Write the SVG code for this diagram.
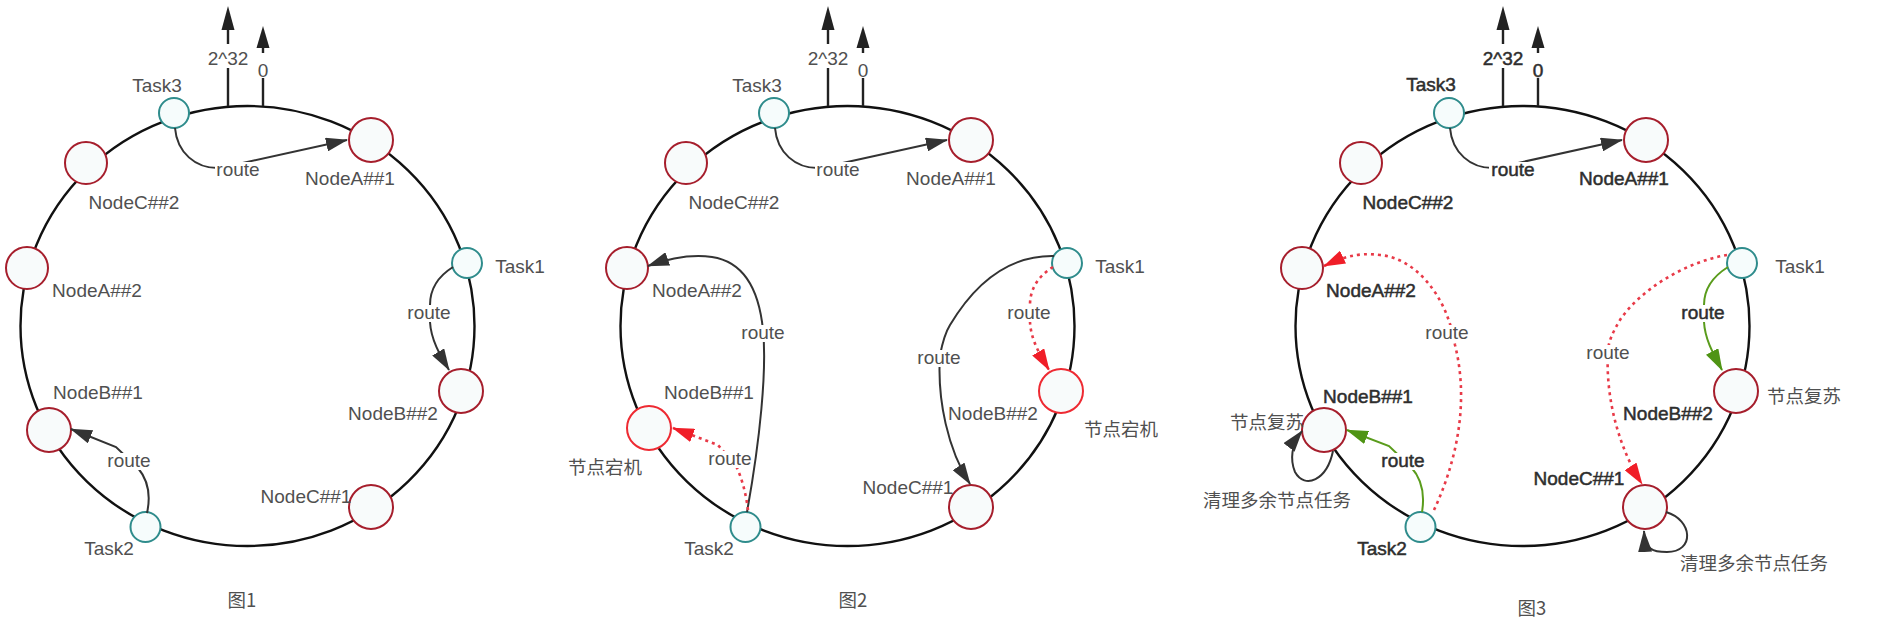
<svg xmlns="http://www.w3.org/2000/svg" width="1880" height="638" viewBox="0 0 1880 638">
<defs>
<style>
.ring{fill:none;stroke:#111;stroke-width:2.4}
.ax{fill:none;stroke:#222;stroke-width:2.4}
.axh{fill:#222}
.task{fill:#f6fcfc;stroke:#2f8c8c;stroke-width:2}
.node{fill:#f8fbfb;stroke:#a61e2c;stroke-width:2}
.down{stroke:#ee2a32}
.t{font-family:"Liberation Sans",Arial,sans-serif;font-size:19px;fill:#505050;text-anchor:middle}
.b{fill:#2e2e2e;stroke:#2e2e2e;stroke-width:0.5}
.cjk{font-family:"Noto Sans CJK SC","Liberation Sans",sans-serif;font-size:18.5px}
.c{fill:none;stroke:#333;stroke-width:2}
.rd{fill:none;stroke:#e83a48;stroke-width:2.6;stroke-dasharray:3 4}
.gr{fill:none;stroke:#5a9c1c;stroke-width:2}
.bg{fill:#fff}
</style>
<marker id="ab" markerUnits="userSpaceOnUse" markerWidth="22" markerHeight="14" refX="21" refY="7" orient="auto"><path d="M0,0 L22,7 L0,14 z" fill="#333"/></marker>
<marker id="ar" markerUnits="userSpaceOnUse" markerWidth="22" markerHeight="14" refX="21" refY="7" orient="auto"><path d="M0,0 L22,7 L0,14 z" fill="#f01e28"/></marker>
<marker id="ag" markerUnits="userSpaceOnUse" markerWidth="22" markerHeight="14" refX="21" refY="7" orient="auto"><path d="M0,0 L22,7 L0,14 z" fill="#4f9414"/></marker>
</defs>
<rect width="1880" height="638" fill="#fff"/>

<!-- ===== Figure 1 ===== -->
<g id="fig1">
 <g id="f1-ring">
  <ellipse class="ring" cx="247.5" cy="326" rx="227" ry="220"/>
 </g>
 <g id="f1-nodes">
  <g id="f1-task3"><circle class="task" cx="174" cy="113" r="15"/><text class="t" x="157" y="92">Task3</text></g>
  <g id="f1-nodeA1"><circle class="node" cx="371" cy="140" r="22"/><text class="t" x="350" y="185">NodeA##1</text></g>
  <g id="f1-nodeC2"><circle class="node" cx="86" cy="163" r="21"/><text class="t" x="134" y="209">NodeC##2</text></g>
  <g id="f1-nodeA2"><circle class="node" cx="27" cy="268" r="21"/><text class="t" x="97" y="297">NodeA##2</text></g>
  <g id="f1-task1"><circle class="task" cx="467" cy="263" r="15"/><text class="t" x="520" y="273">Task1</text></g>
  <g id="f1-nodeB2"><circle class="node" cx="461" cy="391" r="22"/><text class="t" x="393" y="420">NodeB##2</text></g>
  <g id="f1-nodeB1"><circle class="node" cx="49" cy="430" r="22"/><text class="t" x="98" y="399">NodeB##1</text></g>
  <g id="f1-task2"><circle class="task" cx="145.5" cy="527" r="15"/><text class="t" x="109" y="555">Task2</text></g>
  <g id="f1-nodeC1"><circle class="node" cx="371" cy="507" r="22"/><text class="t" x="306" y="503">NodeC##1</text></g>
 </g>
 <g id="f1-connectors">
  <path class="ax" d="M228,106 V68 M228,44 V28"/><path class="axh" d="M228,6 L234.5,30 L221.5,30 z"/>
  <path class="ax" d="M263,106 V78 M263,53 V46"/><path class="axh" d="M263,26 L269.5,48 L256.5,48 z"/>
  <text class="t" x="228" y="65">2^32</text><text class="t" x="263" y="77">0</text>
  <path class="c" d="M175,128 C177,152 195,169 220,168 L347,140" marker-end="url(#ab)"/>
  <rect class="bg" x="215" y="162" width="46" height="17"/><text class="t" x="238" y="176">route</text>
  <path class="c" d="M453,267 C437,277 430,290 430,305 L430,322 C431,340 440,355 449,370" marker-end="url(#ab)"/>
  <rect class="bg" x="406" y="305" width="46" height="17"/><text class="t" x="429" y="319">route</text>
  <path class="c" d="M147,513 C151,495 148,480 138,468 L116,447 L71,429" marker-end="url(#ab)"/>
  <rect class="bg" x="106" y="453" width="46" height="17"/><text class="t" x="129" y="467">route</text>
 </g>
 <text class="t cjk" x="242" y="607">图1</text>
</g>

<!-- ===== Figure 2 ===== -->
<g id="fig2" transform="translate(600,0)">
 <g id="f2-ring">
  <ellipse class="ring" cx="247.5" cy="326" rx="227" ry="220"/>
 </g>
 <g id="f2-nodes">
  <g id="f2-task3"><circle class="task" cx="174" cy="113" r="15"/><text class="t" x="157" y="92">Task3</text></g>
  <g id="f2-nodeA1"><circle class="node" cx="371" cy="140" r="22"/><text class="t" x="351" y="185">NodeA##1</text></g>
  <g id="f2-nodeC2"><circle class="node" cx="86" cy="163" r="21"/><text class="t" x="134" y="209">NodeC##2</text></g>
  <g id="f2-nodeA2"><circle class="node" cx="27" cy="268" r="21"/><text class="t" x="97" y="297">NodeA##2</text></g>
  <g id="f2-task1"><circle class="task" cx="467" cy="263" r="15"/><text class="t" x="520" y="273">Task1</text></g>
  <g id="f2-nodeB2"><circle class="node down" cx="461" cy="391" r="22"/><text class="t" x="393" y="420">NodeB##2</text><text class="t cjk" x="521" y="436">节点宕机</text></g>
  <g id="f2-nodeB1"><circle class="node down" cx="49" cy="428" r="22"/><text class="t" x="109" y="399">NodeB##1</text><text class="t cjk" x="5" y="474">节点宕机</text></g>
  <g id="f2-task2"><circle class="task" cx="145.5" cy="527" r="15"/><text class="t" x="109" y="555">Task2</text></g>
  <g id="f2-nodeC1"><circle class="node" cx="371" cy="507" r="22"/><text class="t" x="308" y="494">NodeC##1</text></g>
 </g>
 <g id="f2-connectors">
  <path class="ax" d="M228,106 V68 M228,44 V28"/><path class="axh" d="M228,6 L234.5,30 L221.5,30 z"/>
  <path class="ax" d="M263,106 V78 M263,53 V46"/><path class="axh" d="M263,26 L269.5,48 L256.5,48 z"/>
  <text class="t" x="228" y="65">2^32</text><text class="t" x="263" y="77">0</text>
  <path class="c" d="M175,128 C177,152 195,169 220,168 L347,140" marker-end="url(#ab)"/>
  <rect class="bg" x="215" y="162" width="46" height="17"/><text class="t" x="238" y="176">route</text>
  <path class="c" d="M147,512 C160,440 167,370 163,330 C159,290 145,262 112,257 C90,254 70,258 48,266" marker-end="url(#ab)"/>
  <rect class="bg" x="140" y="325" width="46" height="17"/><text class="t" x="163" y="339">route</text>
  <path class="rd" d="M148,510 C146,494 142,478 136,466 L118,445 L73,428" marker-end="url(#ar)"/>
  <rect class="bg" x="107" y="451" width="46" height="17"/><text class="t" x="130" y="465">route</text>
  <path class="c" d="M454,256 C400,255 368,295 350,325 C345,333 342,345 340,355 C337,400 348,450 370,484" marker-end="url(#ab)"/>
  <rect class="bg" x="316" y="350" width="46" height="17"/><text class="t" x="339" y="364">route</text>
  <path class="rd" d="M453,267 C437,277 430,290 430,305 L430,322 C431,340 440,355 449,370" marker-end="url(#ar)"/>
  <rect class="bg" x="406" y="305" width="46" height="17"/><text class="t" x="429" y="319">route</text>
 </g>
 <text class="t cjk" x="253" y="607">图2</text>
</g>

<!-- ===== Figure 3 ===== -->
<g id="fig3" transform="translate(1275,0)">
 <g id="f3-ring">
  <ellipse class="ring" cx="247.5" cy="326" rx="227" ry="220"/>
 </g>
 <g id="f3-nodes">
  <g id="f3-task3"><circle class="task" cx="174" cy="113" r="15"/><text class="t b" x="156" y="91">Task3</text></g>
  <g id="f3-nodeA1"><circle class="node" cx="371" cy="140" r="22"/><text class="t b" x="349" y="185">NodeA##1</text></g>
  <g id="f3-nodeC2"><circle class="node" cx="86" cy="163" r="21"/><text class="t b" x="133" y="209">NodeC##2</text></g>
  <g id="f3-nodeA2"><circle class="node" cx="27" cy="268" r="21"/><text class="t b" x="96" y="297">NodeA##2</text></g>
  <g id="f3-task1"><circle class="task" cx="467" cy="263" r="15"/><text class="t" x="525" y="273">Task1</text></g>
  <g id="f3-nodeB2"><circle class="node" cx="461" cy="391" r="22"/><text class="t b" x="393" y="420">NodeB##2</text><text class="t cjk" x="529" y="403">节点复苏</text></g>
  <g id="f3-nodeB1"><circle class="node" cx="49" cy="430" r="22"/><text class="t b" x="93" y="403">NodeB##1</text><text class="t cjk" x="-8" y="429">节点复苏</text><text class="t cjk" x="2" y="507">清理多余节点任务</text></g>
  <g id="f3-task2"><circle class="task" cx="145.5" cy="527" r="15"/><text class="t b" x="107" y="555">Task2</text></g>
  <g id="f3-nodeC1"><circle class="node" cx="370" cy="507" r="22"/><text class="t b" x="304" y="485">NodeC##1</text><text class="t cjk" x="479" y="570">清理多余节点任务</text></g>
 </g>
 <g id="f3-connectors">
  <path class="ax" d="M228,106 V68 M228,44 V28"/><path class="axh" d="M228,6 L234.5,30 L221.5,30 z"/>
  <path class="ax" d="M263,106 V78 M263,53 V46"/><path class="axh" d="M263,26 L269.5,48 L256.5,48 z"/>
  <text class="t b" x="228" y="65">2^32</text><text class="t b" x="263" y="77">0</text>
  <path class="c" d="M175,128 C177,152 195,169 220,168 L347,140" marker-end="url(#ab)"/>
  <rect class="bg" x="214" y="162" width="48" height="17"/><text class="t b" x="238" y="176">route</text>
  <path class="rd" d="M159,510 C180,465 195,405 180,345 C172,295 140,258 105,255 C82,252 66,258 49,266" marker-end="url(#ar)"/>
  <rect class="bg" x="149" y="325" width="46" height="17"/><text class="t" x="172" y="339">route</text>
  <path class="gr" d="M147,512 C150,494 146,478 136,467 L114,446 L72,430" marker-end="url(#ag)"/>
  <rect class="bg" x="104" y="453" width="48" height="17"/><text class="t b" x="128" y="467">route</text>
  <path class="gr" d="M453,267 C437,277 429,290 429,305 L429,322 C430,340 439,355 447,370" marker-end="url(#ag)"/>
  <rect class="bg" x="404" y="305" width="48" height="17"/><text class="t b" x="428" y="319">route</text>
  <path class="rd" d="M452,255 C410,262 365,290 345,320 C338,332 334,340 333,350 C330,400 345,450 367,484" marker-end="url(#ar)"/>
  <rect class="bg" x="310" y="345" width="46" height="17"/><text class="t" x="333" y="359">route</text>
  <path class="c" d="M58,451 C52,480 30,490 20,472 C15,460 16,445 27,431" marker-end="url(#ab)"/>
  <path class="c" d="M391,512 C418,520 420,552 392,552 C378,552 370,550 369,531" marker-end="url(#ab)"/>
 </g>
 <text class="t cjk" x="257" y="615">图3</text>
</g>
</svg>
